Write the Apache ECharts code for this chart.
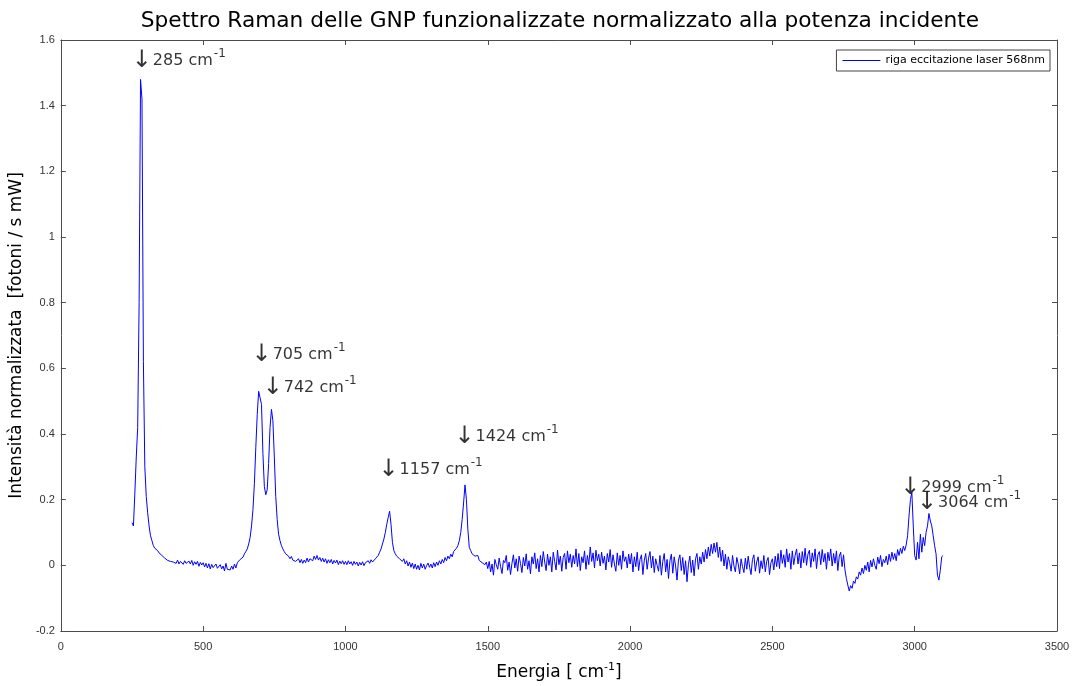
<!DOCTYPE html>
<html>
<head>
<meta charset="utf-8">
<script src="https://cdn.jsdelivr.net/npm/echarts@6/dist/echarts.min.js"></script>
<style>
  html, body { margin: 0; padding: 0; background: #fff; }
  #main { width: 1077px; height: 686px; }
</style>
</head>
<body>
<div id="main"></div>
<script>
// spettro: valori, passo 5 cm^-1 a partire da 250
var xStart = 250
var xStep = 5
var intensita = [
    0.13, 0.12, 0.22, 0.33, 0.42, 0.8, 1.48, 1.42, 0.62, 0.3,
    0.21, 0.16, 0.12, 0.09, 0.075, 0.06, 0.052, 0.048, 0.045, 0.038, 0.035, 0.03, 0.028, 0.022, 0.02, 0.015, 0.018, 0.012, 0.014, 0.01,
    0.014, 0.006, 0.016, 0.004, 0.012, 0.017, 0.003, 0.014, 0.006, 0.002, 0.013, 0.004, 0.015, 0.0, 0.011, 0.003, 0.012, -0.003, 0.009, 0.001,
    0.008, -0.005, 0.006, -0.008, 0.005, -0.011, 0.003, -0.007, -0.013, 0.004, -0.009, -0.015, 0.002, -0.011, -0.002, -0.017, 0.006, -0.012, -0.006, -0.014,
    -0.002, -0.012, 0.004, -0.008, 0.008, 0.012, 0.018, 0.015, 0.025, 0.035, 0.042, 0.05, 0.065, 0.085, 0.12, 0.17, 0.25, 0.36, 0.46, 0.53,
    0.535, 0.49, 0.34, 0.24, 0.215, 0.23, 0.31, 0.42, 0.475, 0.44, 0.33, 0.21, 0.14, 0.095, 0.075, 0.06, 0.05, 0.042, 0.035, 0.03,
    0.028, 0.02, 0.027, 0.016, 0.022, 0.012, 0.014, 0.02, 0.008, 0.018, 0.006, 0.016, 0.008, 0.022, 0.01, 0.02, 0.026, 0.014, 0.028, 0.018,
    0.03, 0.016, 0.024, 0.012, 0.022, 0.01, 0.02, 0.006, 0.017, 0.008, 0.018, 0.004, 0.015, 0.007, 0.016, 0.002, 0.013, 0.005, 0.014, 0.003,
    0.012, 0.002, 0.014, 0.004, 0.011, 0.0, 0.012, 0.003, 0.01, -0.002, 0.009, 0.001, 0.011, -0.001, 0.008, 0.002, 0.014, 0.006, 0.017, 0.01,
    0.016, 0.02, 0.025, 0.03, 0.04, 0.05, 0.065, 0.08, 0.1, 0.125, 0.145, 0.165, 0.125, 0.07, 0.045, 0.035, 0.028, 0.032, 0.02, 0.024,
    0.012, 0.02, 0.004, 0.014, -0.002, 0.01, -0.006, 0.007, -0.01, 0.004, -0.012, 0.0, -0.014, 0.006, -0.008, 0.004, -0.012, -0.001, 0.007, -0.006,
    0.004, -0.008, 0.008, -0.004, 0.01, 0.0, 0.014, 0.004, 0.018, 0.008, 0.024, 0.014, 0.028, 0.02, 0.034, 0.026, 0.042, 0.044, 0.052, 0.06,
    0.075, 0.1, 0.14, 0.19, 0.245, 0.2, 0.11, 0.055, 0.045, 0.035, 0.04, 0.028, 0.022, 0.03, 0.015, 0.02, 0.008, 0.014, 0.002, 0.01,
    -0.01, 0.012, -0.02, 0.004, -0.03, 0.018, 0.002, -0.012, 0.022, -0.004, -0.025, 0.015, 0.008, 0.03, -0.015, 0.01, -0.028, 0.006, 0.032, -0.008,
    0.02, -0.018, 0.028, 0.006, -0.022, 0.024, -0.002, 0.035, -0.012, 0.014, -0.026, 0.026, 0.004, 0.038, -0.01, 0.02, -0.02, 0.03, -0.004, 0.042,
    0.01, -0.016, 0.034, 0.0, 0.026, -0.02, 0.04, 0.012, -0.014, 0.046, 0.002, 0.028, -0.018, 0.024, 0.036, -0.012, 0.044, 0.008, 0.034, -0.006,
    0.03, 0.004, 0.05, -0.004, 0.036, -0.016, 0.026, 0.008, 0.044, -0.012, 0.03, 0.002, 0.056, 0.012, 0.038, -0.008, 0.046, 0.014, 0.034, -0.002,
    0.04, 0.006, 0.028, -0.014, 0.036, 0.01, 0.048, -0.006, 0.032, 0.004, -0.018, 0.038, 0.0, 0.03, -0.012, 0.044, 0.012, 0.026, -0.008, 0.034,
    0.004, 0.036, -0.02, 0.026, -0.004, 0.04, -0.016, 0.018, 0.032, -0.028, 0.016, 0.036, -0.012, 0.022, 0.042, -0.008, 0.028, -0.022, 0.02, 0.0,
    -0.018, 0.03, -0.03, 0.012, 0.036, -0.02, 0.018, -0.04, 0.014, 0.034, -0.024, 0.026, -0.002, -0.045, 0.016, 0.032, -0.016, 0.024, -0.028, 0.014,
    -0.05, 0.002, 0.028, -0.022, 0.016, -0.032, 0.02, 0.036, -0.012, 0.026, 0.004, 0.04, 0.01, 0.048, 0.02, 0.056, 0.028, 0.064, 0.036, 0.068,
    0.04, 0.07, 0.024, 0.056, 0.012, 0.046, -0.002, 0.034, -0.012, 0.026, 0.008, -0.018, 0.03, -0.002, -0.02, 0.024, 0.004, -0.026, 0.02, -0.004,
    -0.022, 0.022, -0.012, 0.028, -0.006, -0.028, 0.018, 0.032, -0.018, 0.01, 0.026, -0.024, 0.014, -0.01, 0.03, -0.02, 0.012, 0.024, -0.028, 0.008,
    0.02, -0.014, 0.028, -0.004, 0.036, -0.01, 0.046, 0.006, 0.032, -0.006, 0.05, 0.01, 0.036, -0.012, 0.044, 0.002, 0.03, 0.05, 0.004, 0.038,
    -0.008, 0.042, 0.008, 0.052, 0.0, 0.034, 0.046, -0.006, 0.038, 0.012, 0.05, -0.01, 0.032, 0.042, 0.002, 0.048, 0.01, 0.036, -0.012, 0.04,
    0.014, 0.05, -0.002, 0.036, 0.006, 0.044, -0.016, 0.028, 0.04, -0.004, 0.032, -0.014, -0.04, -0.06, -0.078, -0.062, -0.07, -0.048, -0.055, -0.035,
    -0.042, -0.02, -0.03, -0.008, -0.025, 0.0, -0.015, 0.01, -0.02, 0.015, -0.005, 0.02, 0.0, -0.012, 0.025, 0.005, 0.03, -0.004, 0.018, 0.008,
    0.028, 0.002, 0.034, 0.012, 0.04, 0.018, 0.036, 0.014, 0.048, 0.03, 0.052, 0.036, 0.058, 0.045, 0.062, 0.09, 0.15, 0.2, 0.222, 0.12,
    0.03, 0.016, 0.07, 0.02, 0.095, 0.04, 0.085, 0.06, 0.1, 0.12, 0.158, 0.135, 0.12, 0.09, 0.06, 0.035, -0.03, -0.045, -0.015, 0.026, 0.03
]

// etichette dei picchi: testo e posizione (in coordinate dati)
var picchiNomi = ['285', '705', '742', '1157', '1424', '2999', '3064']
var picchiX = [249, 670, 709, 1116, 1383, 2949, 3008]
var picchiY = [1.536, 0.641, 0.540, 0.290, 0.391, 0.235, 0.190]

var xTicks = [0, 500, 1000, 1500, 2000, 2500, 3000, 3500]
var yTicks = [-0.2, 0, 0.2, 0.4, 0.6, 0.8, 1, 1.2, 1.4, 1.6]

var spettro = []
for (var i = 0; i < intensita.length; i++) {
    spettro.push([xStart + i * xStep, intensita[i]])
}

var etichette = []
for (var k = 0; k < picchiNomi.length; k++) {
    etichette.push({ value: [picchiX[k], picchiY[k]], name: picchiNomi[k] })
}

var assiColore = '#4d4d4d'
var font = 'Liberation Sans, Arial, sans-serif'
var fontLargo = 'DejaVu Sans'

function asse(pos, isX) {
    var a = {
        type: 'value',
        position: pos,
        min: isX ? xTicks[0] : yTicks[0],
        max: isX ? xTicks[xTicks.length - 1] : yTicks[yTicks.length - 1],
        interval: isX ? 500 : 0.2,
        axisLine: { show: true, onZero: false, lineStyle: { color: assiColore } },
        axisTick: { inside: true, length: 5, lineStyle: { color: assiColore } },
        axisLabel: { show: false },
        splitLine: { show: false }
    }
    return a
}

var xBasso = asse('bottom', true)
xBasso.name = 'Energia [ cm{s|-1}]'
xBasso.nameLocation = 'middle'
xBasso.nameGap = 31
xBasso.nameTextStyle = {
    fontSize: 17, color: '#000', fontFamily: fontLargo,
    rich: { s: { fontSize: 11, fontFamily: fontLargo, verticalAlign: 'top', padding: [0, 0, 10, 0], color: '#000' } }
}
xBasso.axisLabel = { show: true, fontSize: 11, color: '#333', margin: 10, formatter: function(v) { return String(v) } }

var ySinistra = asse('left', false)
ySinistra.name = 'Intensità normalizzata  [fotoni / s mW]'
ySinistra.nameLocation = 'middle'
ySinistra.nameGap = 35
ySinistra.nameTextStyle = { fontSize: 17, color: '#000', fontFamily: fontLargo }
ySinistra.axisLabel = { show: true, fontSize: 11, color: '#333', margin: 6 }

var myChart = echarts.init(document.getElementById('main'))
myChart.setOption({
    animation: false,
    textStyle: { fontFamily: font },
    title: {
        text: 'Spettro Raman delle GNP funzionalizzate normalizzato alla potenza incidente',
        left: 555,
        textAlign: 'center',
        top: 5,
        textStyle: { fontSize: 21.7, fontWeight: 'normal', color: '#000', fontFamily: fontLargo }
    },
    legend: {
        right: 27,
        top: 50,
        orient: 'vertical',
        data: [{ name: 'riga eccitazione laser 568nm', icon: 'rect' }],
        itemWidth: 38,
        itemHeight: 1,
        itemGap: 0,
        padding: [5, 5, 5, 6],
        borderColor: '#444',
        borderWidth: 1,
        backgroundColor: '#fff',
        textStyle: { fontSize: 11, color: '#000', fontFamily: fontLargo }
    },
    grid: { left: 60, right: 20, top: 40, bottom: 54 },
    xAxis: [xBasso, asse('top', true)],
    yAxis: [ySinistra, asse('right', false)],
    series: [{
        name: 'riga eccitazione laser 568nm',
        type: 'line',
        data: spettro,
        showSymbol: false,
        symbol: 'none',
        lineStyle: { color: '#0000ff', width: 1 },
        itemStyle: { color: '#0000ff' }
    }, {
        name: 'picchi',
        type: 'scatter',
        data: etichette,
        symbolSize: 0,
        silent: true,
        label: {
            show: true,
            position: 'right',
            distance: 0,
            formatter: function(p) {
                return '{a|↓}{t|' + p.name + ' cm}{s|-1}'
            },
            rich: {
                a: { fontSize: 24, color: '#000', fontFamily: fontLargo },
                t: { fontSize: 16, color: '#000', fontFamily: fontLargo, padding: [0, 0, 0, 1] },
                s: { fontSize: 12, color: '#000', fontFamily: fontLargo, verticalAlign: 'top', padding: [0, 0, 14, 1] }
            }
        }
    }]
})
</script>
</body>
</html>
